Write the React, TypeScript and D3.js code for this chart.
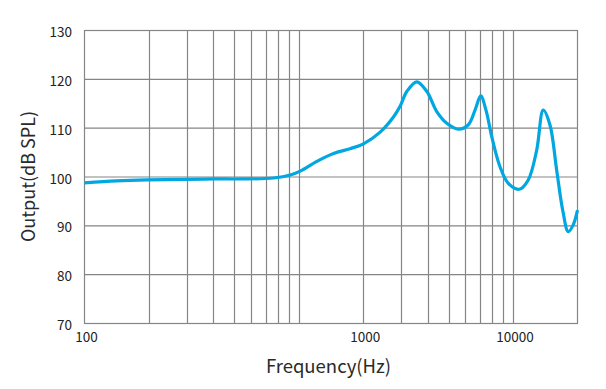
import React, { useRef, useEffect } from "react";
import * as d3 from "d3";

// frequency response (Hz, dB SPL)
const freqs = [
  100, 141, 196, 300, 401, 534, 763, 913, 1016, 1216, 1453, 1738, 2005, 2399,
  2767, 2972, 3194, 3557, 3962, 4407, 4909, 5559, 6190, 6650, 7067, 7480, 7955,
  8695, 9507, 10697, 11780, 12900, 13840, 14870, 15990, 17060, 18110, 19100,
  20000,
];
const levels = [
  98.8, 99.2, 99.4, 99.5, 99.6, 99.6, 99.8, 100.4, 101.2, 103.2, 104.8, 105.8,
  106.8, 109.2, 112.3, 114.5, 117.5, 119.5, 117.5, 113.4, 111.0, 109.8, 110.7,
  113.7, 116.6, 113.7, 108.3, 102.1, 98.7, 97.5, 99.4, 105.5, 113.7, 110.7,
  101.4, 93.2, 88.8, 90.2, 93.2,
];

const gridFreqs = [
  200, 300, 400, 500, 600, 700, 800, 900, 1000, 2000, 3000, 4000, 5000, 6000,
  7000, 8000, 9000, 10000,
];
const yTicks = [70, 80, 90, 100, 110, 120, 130];
// the source puts its "1000" label on the 2000 Hz line
const xTickPos = [100, 2000, 10000];
const xTickText = ["100", "1000", "10000"];

const W = 606;
const H = 389;

const App = () => {
  const svgRef = useRef<SVGSVGElement>(null);

  useEffect(() => {
    const svg = d3.select(svgRef.current);
    svg.selectAll("*").remove();

    const font = "'Noto Sans CJK SC', 'Noto Sans', sans-serif";
    const grid = "#858585";

    const x = d3.scaleLog().domain([100, 20000]).range([84.5, 577.5]);
    const y = d3.scaleLinear().domain([70, 130]).range([323.5, 30.5]);

    // vertical grid
    svg
      .append("g")
      .selectAll("line")
      .data(gridFreqs)
      .join("line")
      .attr("x1", (d) => Math.round(x(d)) + 0.5)
      .attr("x2", (d) => Math.round(x(d)) + 0.5)
      .attr("y1", y(130))
      .attr("y2", y(70))
      .attr("stroke", grid)
      .attr("stroke-width", 1.2);

    // horizontal grid
    svg
      .append("g")
      .selectAll("line")
      .data(yTicks)
      .join("line")
      .attr("x1", x(100))
      .attr("x2", x(20000))
      .attr("y1", (d) => y(d))
      .attr("y2", (d) => y(d))
      .attr("stroke", grid)
      .attr("stroke-width", 1.2);

    // frame
    svg
      .append("rect")
      .attr("x", x(100))
      .attr("y", y(130))
      .attr("width", x(20000) - x(100))
      .attr("height", y(70) - y(130))
      .attr("fill", "none")
      .attr("stroke", grid)
      .attr("stroke-width", 1.2);

    // y tick labels
    svg
      .append("g")
      .selectAll("text")
      .data(yTicks)
      .join("text")
      .attr("x", 72)
      .attr("y", (d) => y(d) + 6.5)
      .attr("text-anchor", "end")
      .attr("font-family", font)
      .attr("font-size", 13.5)
      .attr("fill", "#222")
      .text((d) => d);

    // x tick labels
    svg
      .append("g")
      .selectAll("text")
      .data(xTickPos)
      .join("text")
      .attr("x", (d) => x(d) + 2)
      .attr("y", 342)
      .attr("text-anchor", "middle")
      .attr("font-family", font)
      .attr("font-size", 13.5)
      .attr("fill", "#222")
      .text((d, i) => xTickText[i]);

    // axis titles
    svg
      .append("text")
      .attr("x", 328.5)
      .attr("y", 372.5)
      .attr("text-anchor", "middle")
      .attr("font-family", font)
      .attr("font-size", 18.5)
      .attr("fill", "#2a2a2a")
      .text("Frequency(Hz)");

    svg
      .append("text")
      .attr("transform", "translate(35,176.5) rotate(-90)")
      .attr("text-anchor", "middle")
      .attr("font-family", font)
      .attr("font-size", 18)
      .attr("fill", "#2a2a2a")
      .text("Output(dB SPL)");

    const pts = freqs.map((f, i) => [f, levels[i]] as [number, number]);
    const line = d3
      .line<[number, number]>()
      .x((d) => x(d[0]))
      .y((d) => y(d[1]))
      .curve(d3.curveCatmullRom.alpha(0.5));

    svg
      .append("path")
      .datum(pts)
      .attr("fill", "none")
      .attr("stroke", "#00a7e1")
      .attr("stroke-width", 3.2)
      .attr("stroke-linejoin", "round")
      .attr("d", line);
  }, []);

  return (
    <svg
      ref={svgRef}
      width={W}
      height={H}
      style={{ position: "absolute", left: 0, top: 0, background: "#fff" }}
    ></svg>
  );
};

export default App;
